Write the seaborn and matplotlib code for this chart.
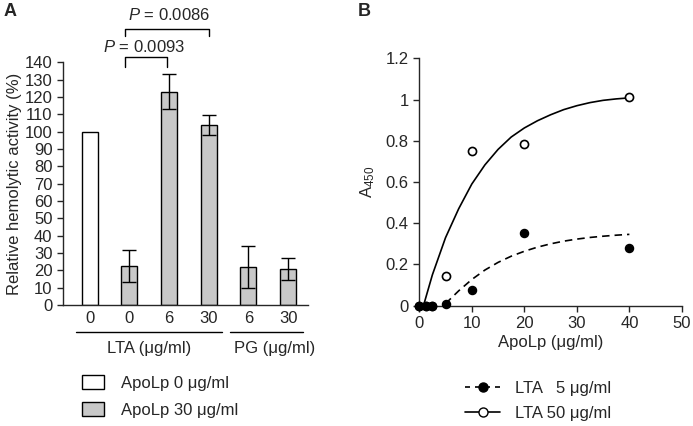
import numpy as np
import pandas as pd
import matplotlib
matplotlib.use("Agg")
import matplotlib.pyplot as plt
import seaborn as sns
from matplotlib.lines import Line2D

# ---- Panel A data: relative hemolytic activity (%)
cond_ids = ["c0", "c1", "c2", "c3", "c4", "c5"]
dose_labels = ["0", "0", "6", "30", "6", "30"]
apolp_group = ["ApoLp 0 μg/ml", "ApoLp 30 μg/ml", "ApoLp 30 μg/ml",
               "ApoLp 30 μg/ml", "ApoLp 30 μg/ml", "ApoLp 30 μg/ml"]
activity = [100, 22.7, 123, 104, 22, 21]
activity_err = [0, 9.2, 10, 5.7, 12, 6.3]
p_labels = ["P = 0.0093", "P = 0.0086"]

# ---- Panel B data: A450 vs ApoLp
apolp_conc = [0, 1.25, 2.5, 5, 10, 20, 40]
a450_lta5 = [0, 0, 0, 0.008, 0.076, 0.352, 0.278]
a450_lta50 = [0, 0, 0, 0.145, 0.75, 0.785, 1.01]

# fitted curves as drawn in the figure
fit50_x = [0.8, 2.5, 5, 7.5, 10, 12.5, 15, 17.5, 20, 22.5, 25, 27.5, 30, 32.5, 35, 37.5, 40]
fit50_y = [0, 0.15, 0.33, 0.47, 0.59, 0.683, 0.758, 0.818, 0.862, 0.897, 0.926, 0.951,
           0.97, 0.985, 0.996, 1.003, 1.008]
fit5_x = [5, 7.5, 10, 12.5, 15, 17.5, 20, 22.5, 25, 27.5, 30, 32.5, 35, 37.5, 40]
fit5_y = [0.01, 0.072, 0.127, 0.173, 0.21, 0.24, 0.264, 0.284, 0.3, 0.313, 0.323,
          0.331, 0.337, 0.342, 0.346]

sns.set_style("ticks")
plt.rcParams["font.family"] = ["Liberation Sans", "DejaVu Sans"]
plt.rcParams["mathtext.fontset"] = "custom"
plt.rcParams["mathtext.rm"] = "Liberation Sans"
plt.rcParams["mathtext.it"] = "Liberation Sans:italic"
plt.rcParams["mathtext.default"] = "regular"
plt.rcParams["axes.linewidth"] = 1.0
FS = 12

fig = plt.figure(figsize=(6.93, 4.26), dpi=100)
axA = fig.add_axes([0.0909, 0.284, 0.3535, 0.5697])
axB = fig.add_axes([0.605, 0.2824, 0.379, 0.5808])

# ================= Panel A =================
df_a = pd.DataFrame({"cond": cond_ids, "activity": activity, "ApoLp": apolp_group})
sns.barplot(data=df_a, x="cond", y="activity", hue="ApoLp",
            palette={"ApoLp 0 μg/ml": "white", "ApoLp 30 μg/ml": "#c8c8c8"},
            dodge=False, width=0.4, edgecolor="black", linewidth=1.0,
            errorbar=None, ax=axA)

pos = np.arange(len(cond_ids))
err = np.array(activity_err)
has_err = err > 0
axA.errorbar(pos[has_err], np.array(activity)[has_err], yerr=err[has_err],
             fmt="none", ecolor="black", elinewidth=1.0, capsize=5, capthick=1.0)

axA.set_xlim(-0.67, 5.5)
axA.set_ylim(0, 140)
axA.set_yticks(range(0, 141, 10))
axA.set_xticks(pos, dose_labels)
axA.tick_params(axis="y", length=4.5, width=1.0, pad=3, labelsize=FS)
axA.tick_params(axis="x", length=0, pad=4.5, labelsize=FS)
axA.set_xlabel("")
axA.set_ylabel("Relative hemolytic activity (%)", fontsize=FS, labelpad=2)
sns.despine(ax=axA)

# group underlines and labels
axA.plot([-0.345, 3.33], [-15.4, -15.4], color="black", lw=1.0, clip_on=False)
axA.plot([3.54, 5.37], [-15.4, -15.4], color="black", lw=1.0, clip_on=False)
axA.text(1.49, -27.5, "LTA (μg/ml)", ha="center", va="baseline", fontsize=FS)
axA.text(4.67, -27.5, "PG (μg/ml)", ha="center", va="baseline", fontsize=FS)

# significance brackets
for (x0, x1, top, leg, ty, tx), lab in zip(
        [(0.9, 1.94, 143.1, 137.3, 146.2, 1.37), (0.9, 3.0, 159.3, 155.2, 164.5, 2.0)],
        p_labels):
    axA.plot([x0, x0, x1, x1], [leg, top, top, leg], color="black", lw=1.0, clip_on=False)
    axA.text(tx, ty, "$\\mathit{P}$" + lab[1:], ha="center", va="baseline", fontsize=FS)

sns.move_legend(axA, "upper left", bbox_to_anchor=(0.1183, 1 - 375 / 426),
                bbox_transform=fig.transFigure, title=None, frameon=False,
                fontsize=FS, handlelength=1.32, handleheight=0.94,
                handletextpad=1.0, labelspacing=0.66, borderpad=0, borderaxespad=0)

# ================= Panel B =================
sns.lineplot(x=fit50_x, y=fit50_y, color="black", lw=1.2, ax=axB)
sns.lineplot(x=fit5_x, y=fit5_y, color="black", lw=1.2, linestyle=(0, (4.5, 3)), ax=axB)
sns.scatterplot(x=apolp_conc, y=a450_lta50, color="white", edgecolor="black",
                linewidth=1.2, s=34, clip_on=False, zorder=3, ax=axB)
sns.scatterplot(x=apolp_conc, y=a450_lta5, color="black", edgecolor="black",
                linewidth=1.0, s=34, clip_on=False, zorder=4, ax=axB)

axB.set_xlim(0, 50)
axB.set_ylim(0, 1.2)
axB.set_xticks(range(0, 51, 10))
axB.set_yticks([0, 0.2, 0.4, 0.6, 0.8, 1, 1.2], ["0", "0.2", "0.4", "0.6", "0.8", "1", "1.2"])
axB.tick_params(length=4.5, width=1.0, pad=3, labelsize=FS)
axB.set_xlabel("ApoLp (μg/ml)", fontsize=FS, labelpad=3)
axB.set_ylabel("A$_{450}$", fontsize=FS, labelpad=6)
sns.despine(ax=axB)

h5 = Line2D([], [], color="black", lw=1.2, linestyle=(0, (3, 3)), marker="o",
            markersize=6.5, markerfacecolor="black", markeredgecolor="black")
h50 = Line2D([], [], color="black", lw=1.2, marker="o", markersize=6.5,
             markerfacecolor="white", markeredgecolor="black")
axB.legend([h5, h50], ["LTA   5 μg/ml", "LTA 50 μg/ml"], loc="upper left",
           bbox_to_anchor=(465 / 693, 1 - 381 / 426), bbox_transform=fig.transFigure,
           frameon=False, fontsize=FS, handlelength=2.1, handletextpad=0.9,
           labelspacing=0.6, borderpad=0, borderaxespad=0)

fig.text(4 / 693, 1 - 3 / 426, "A", fontsize=13, fontweight="bold", ha="left", va="top")
fig.text(358 / 693, 1 - 3 / 426, "B", fontsize=13, fontweight="bold", ha="left", va="top")

fig.savefig("out.png", dpi=100)
